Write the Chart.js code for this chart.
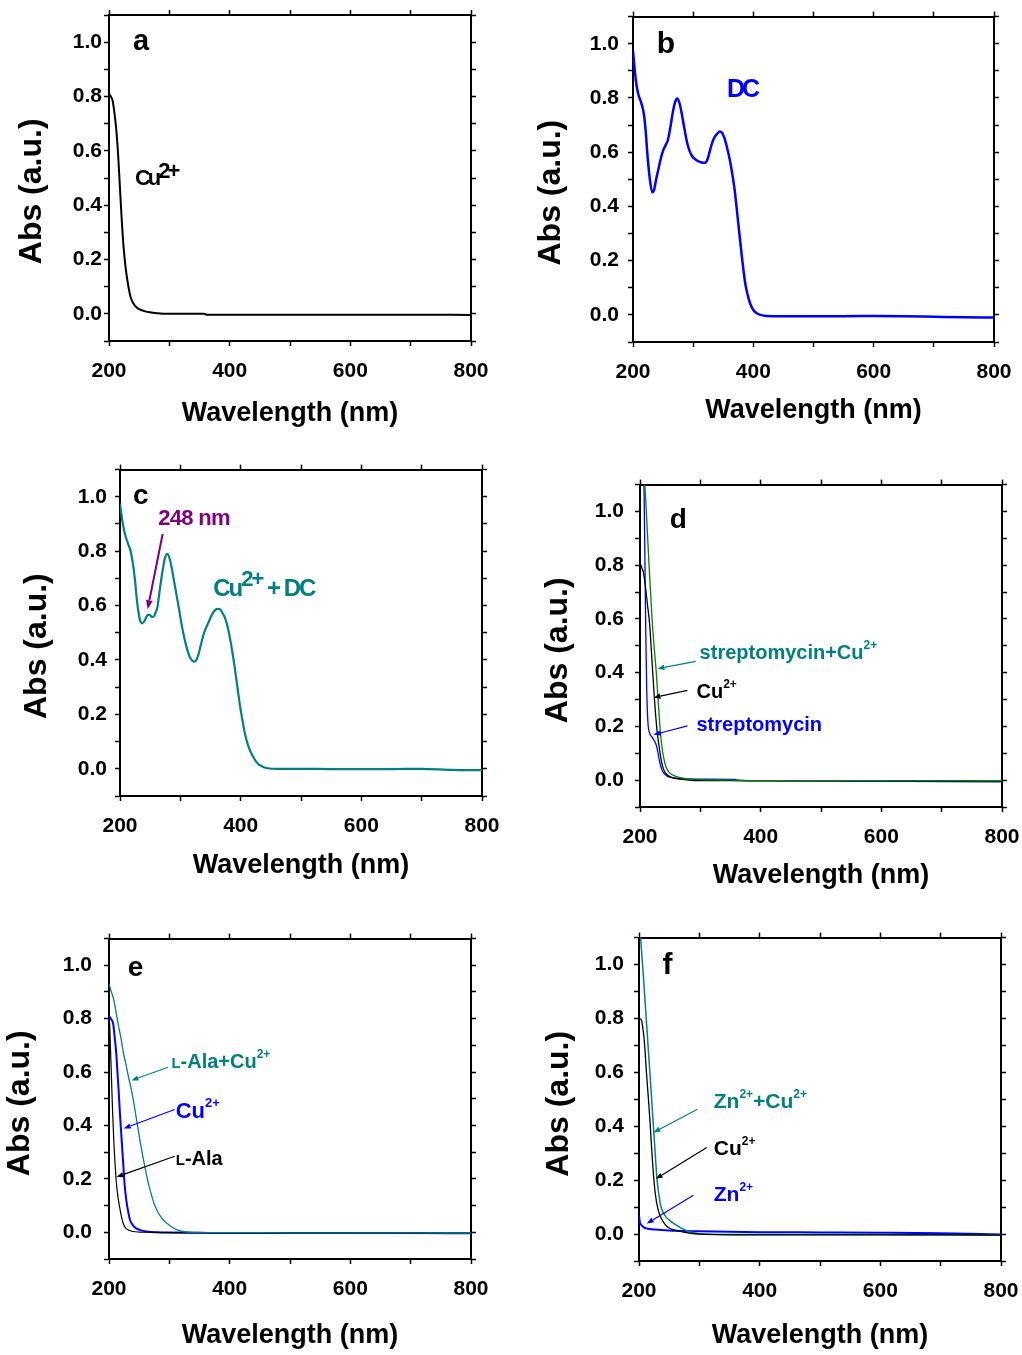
<!DOCTYPE html>
<html><head><meta charset="utf-8">
<script src="https://cdn.jsdelivr.net/npm/chart.js@4.4.0/dist/chart.umd.min.js"></script>
<style>
html,body{margin:0;padding:0;background:#fff;width:1022px;height:1355px;overflow:hidden;position:relative}
canvas{position:absolute}
</style></head><body>
<script>
// ---------------- data ----------------
const wavelengthTicks = [200, 400, 600, 800];
const absTicks = [0.0, 0.2, 0.4, 0.6, 0.8, 1.0];

// (a) Cu2+
const wlA = [200,203,206,209,212,215,218,221,224,227,230,233,236,240,245,250,260,270,280,300,330,358,362,400,500,600,700,800];
const absA_Cu = [0.81,0.80,0.785,0.74,0.68,0.59,0.47,0.35,0.25,0.18,0.13,0.09,0.06,0.04,0.025,0.017,0.009,0.005,0.002,0.0,0.0,0.0,-0.003,-0.003,-0.003,-0.003,-0.003,-0.004];

// (b) DC
const wlB = [200,203,206,209,214,218,221,224,228,232,235,238,242,246,250,254,258,262,266,270,274,278,282,286,290,294,298,303,308,314,320,324,328,332,336,340,344,348,352,356,361,365,369,372,375,378,381,384,387,391,395,400,405,412,422,450,500,550,600,650,700,750,800];
const absB_DC = [0.975,0.90,0.845,0.812,0.78,0.741,0.68,0.59,0.50,0.452,0.46,0.495,0.535,0.575,0.606,0.625,0.645,0.69,0.745,0.785,0.798,0.775,0.73,0.68,0.635,0.605,0.586,0.575,0.567,0.562,0.561,0.575,0.607,0.637,0.657,0.668,0.676,0.672,0.652,0.62,0.57,0.52,0.46,0.40,0.337,0.275,0.214,0.158,0.11,0.07,0.04,0.018,0.007,0.0,-0.004,-0.005,-0.005,-0.005,-0.004,-0.005,-0.007,-0.009,-0.01];

// (c) Cu2+ + DC
const wlC = [200,204,208,213,218,222,225,228,231,234,237,241,244,247,250,253,256,259,262,266,270,274,278,282,286,290,294,298,302,306,310,314,318,322,326,330,334,338,342,346,350,354,358,362,366,370,374,378,382,386,390,394,398,402,407,412,418,424,430,437,445,460,500,550,600,650,700,750,800];
const absC_CuDC = [0.975,0.91,0.865,0.83,0.796,0.745,0.69,0.62,0.57,0.54,0.535,0.545,0.56,0.567,0.565,0.558,0.56,0.575,0.594,0.66,0.72,0.77,0.79,0.775,0.735,0.685,0.635,0.585,0.532,0.487,0.45,0.42,0.402,0.394,0.398,0.42,0.455,0.49,0.515,0.535,0.555,0.573,0.584,0.588,0.586,0.572,0.555,0.525,0.484,0.432,0.375,0.31,0.245,0.19,0.13,0.088,0.055,0.032,0.016,0.007,0.002,0.0,0.0,-0.001,-0.001,-0.001,0.0,-0.004,-0.005];

// (d) streptomycin
const wlD_Cu = [200,203,206,209,212,216,220,224,228,232,236,240,245,250,260,270,280,300,350,400,500,600,700,800];
const absD_Cu = [0.81,0.79,0.77,0.72,0.66,0.58,0.44,0.30,0.19,0.12,0.065,0.035,0.02,0.012,0.006,0.003,0.0,-0.002,-0.002,-0.003,-0.003,-0.003,-0.003,-0.004];
const wlD_StrCu = [200,204,208,210.5,215,220,224,227,230,233,236,240,243,248,255,265,280,300,350,400,500,600,700,800];
const absD_StrCu = [1.4,1.22,1.1,1.0,0.8,0.6,0.48,0.40,0.30,0.20,0.13,0.075,0.05,0.03,0.018,0.01,0.005,0.002,0.0,-0.002,-0.002,-0.002,-0.002,-0.003];
const wlD_Str = [200,204,206.6,208,209.5,211,213,216,220,224,227,230,232,236,240,245,251,260,280,300,358,362,400,500,600,700,800];
const absD_Str = [1.5,1.2,1.1,0.85,0.56,0.35,0.22,0.175,0.16,0.145,0.13,0.10,0.074,0.04,0.024,0.015,0.01,0.007,0.005,0.004,0.003,0.0,-0.002,-0.003,-0.004,-0.005,-0.006];

// (e) L-Ala
const wlE_Ala = [200,201,202,204,206,208,210,212,215,218,221,224,228,234,240,250,270,300,400,500,600,700,800];
const absE_Ala = [0.80,0.78,0.72,0.585,0.45,0.34,0.26,0.19,0.13,0.09,0.055,0.03,0.015,0.007,0.003,0.001,0.0,-0.001,-0.002,-0.002,-0.002,-0.003,-0.004];
const wlE_Cu = [200,203,207,209,212,214,216,218,220,222,224,226,229,232,235,240,245,252,262,280,300,350,400,500,600,700,800];
const absE_Cu = [0.81,0.80,0.78,0.74,0.671,0.60,0.53,0.45,0.38,0.31,0.242,0.175,0.115,0.075,0.045,0.025,0.015,0.008,0.003,0.0,-0.001,-0.002,-0.003,-0.003,-0.003,-0.003,-0.004];
const wlE_AlaCu = [200,204,208,212,216,220,224,228,232,236,240,244,248,252,256,260,264,268,272,276,280,286,292,298,304,312,322,340,400,500,600,700,800];
const absE_AlaCu = [0.93,0.90,0.87,0.82,0.77,0.725,0.67,0.63,0.585,0.545,0.50,0.445,0.39,0.335,0.285,0.24,0.195,0.16,0.127,0.10,0.08,0.058,0.042,0.03,0.02,0.01,0.003,0.0,-0.001,-0.002,-0.002,-0.002,-0.003];

// (f) Zn2+
const wlF_Zn = [200,201,202,204,208,212,220,237,260,300,325,400,500,600,700,800];
const absF_Zn = [0.07,0.05,0.04,0.033,0.025,0.021,0.018,0.015,0.012,0.01,0.009,0.007,0.006,0.005,0.003,-0.002];
const wlF_Cu = [200,204,206,208,210,212,215,218,220.5,223,226,229,233,237,242,248,255,270,285,300,400,500,600,700,800];
const absF_Cu = [0.80,0.795,0.77,0.735,0.68,0.61,0.52,0.426,0.333,0.25,0.17,0.119,0.08,0.058,0.04,0.025,0.017,0.009,0.003,0.0,-0.003,-0.003,-0.003,-0.003,-0.004];
const wlF_ZnCu = [200,203,206.6,209,212,215,218,220.5,223,225.5,228,230,233,236,240,246,254,264,276,290,310,400,500,600,700,800];
const absF_ZnCu = [1.18,1.088,0.978,0.90,0.80,0.70,0.60,0.517,0.43,0.345,0.26,0.20,0.144,0.105,0.08,0.06,0.045,0.03,0.015,0.005,0.0,-0.002,-0.002,-0.002,-0.003,-0.003];

// ---------------- layout & style ----------------
const FAMILY = '"Liberation Sans", Arial, Helvetica, sans-serif';
const YW = 110, XH = 100, TH = 20, RW = 40;
const TEAL = '#008080', BLUE = '#0000ff', BLACK = '#000000', PURPLE = '#800080', GREEN = '#008000';

function xTickLabel(v) {
  const r = Math.round(v);
  return wavelengthTicks.includes(r) ? String(r) : '';
}
function yTickLabel(v) {
  const k = Math.round(v * 10);
  if (Math.abs(v * 10 - k) > 1e-6) return '';
  return absTicks.some(t => Math.round(t * 10) === k) ? (k / 10).toFixed(1) : '';
}

const panels = [
  { box:{L:109,T:15,R:471,B:341}, yPad:2, yTitlePad:13.5, xTitlePad:11.2, yTitle:'Abs (a.u.)   ',
    series:[{x:wlA, y:absA_Cu, color:BLACK, w:2}],
    notes:[
      {x:239.8, y:0.973, baseline:true, parts:[{t:'a', size:29}], color:BLACK},
      {x:243, y:0.505, spacing:-3, parts:[{t:'Cu', size:22},{t:'2+', size:22, rise:7}], color:BLACK}
    ] },
  { box:{L:633,T:15,R:994,B:342}, yPad:9, yTitlePad:8.8, xTitlePad:15.2, yTitle:'Abs (a.u.)   ',
    series:[{x:wlB, y:absB_DC, color:BLUE, w:2.5}],
    notes:[
      {x:239.4, y:0.967, baseline:true, parts:[{t:'b', size:30}], color:BLACK},
      {x:356.1, y:0.835, spacing:-3, parts:[{t:'DC', size:25}], color:BLUE}
    ] },
  { box:{L:120,T:469,R:482,B:796}, yPad:8, yTitlePad:7.5, xTitlePad:14.2, yTitle:'Abs (a.u.)   ',
    series:[{x:wlC, y:absC_CuDC, color:TEAL, w:2.2}],
    notes:[
      {x:221.5, y:0.974, baseline:true, parts:[{t:'c', size:28}], color:BLACK},
      {x:263.4, y:0.927, spacing:-0.7, parts:[{t:'248 nm', size:22}], color:PURPLE},
      {arrow:[270.7,0.863,245.8,0.587], color:PURPLE, lw:2, head:9},
      {x:354.5, y:0.668, spacing:-2, parts:[{t:'Cu', size:24},{t:'2+', size:22, rise:10},{t:' + DC', size:24}], color:TEAL}
    ] },
  { box:{L:640,T:481,R:1002,B:807}, yPad:11, yTitlePad:8.5, xTitlePad:15.2, yTitle:'Abs (a.u.) ',
    series:[{x:wlD_StrCu, y:absD_StrCu, color:GREEN, w:1.3},{x:wlD_Cu, y:absD_Cu, color:BLACK, w:1.3},{x:wlD_Str, y:absD_Str, color:BLUE, w:1.3}],
    notes:[
      {x:249.3, y:0.939, baseline:true, parts:[{t:'d', size:28}], color:BLACK},
      {x:298.8, y:0.478, parts:[{t:'streptomycin+Cu', size:20},{t:'2+', size:12, rise:10}], color:TEAL},
      {arrow:[292.4,0.442,228.9,0.415], color:TEAL},
      {x:293.6, y:0.331, parts:[{t:'Cu', size:20},{t:'2+', size:12, rise:10}], color:BLACK},
      {arrow:[278.6,0.334,222.2,0.307], color:BLACK},
      {x:293.6, y:0.21, parts:[{t:'streptomycin', size:20}], color:BLUE},
      {arrow:[278.6,0.202,222.2,0.169], color:BLUE}
    ] },
  { box:{L:109,T:934,R:471,B:1259}, yPad:12, yTitlePad:1.8, xTitlePad:7.2, yTitle:'Abs (a.u.) ',
    series:[{x:wlE_AlaCu, y:absE_AlaCu, color:TEAL, w:1.3},{x:wlE_Ala, y:absE_Ala, color:BLACK, w:1.2},{x:wlE_Cu, y:absE_Cu, color:BLUE, w:2}],
    notes:[
      {x:231, y:0.959, baseline:true, parts:[{t:'e', size:28}], color:BLACK},
      {x:303.4, y:0.642, base:20, parts:[{t:'L', size:15},{t:'-Ala+Cu', size:20},{t:'2+', size:12, rise:10}], color:TEAL},
      {arrow:[297.8,0.618,237.1,0.569], color:TEAL},
      {x:310.6, y:0.457, parts:[{t:'Cu', size:22},{t:'2+', size:13, rise:11}], color:BLUE},
      {arrow:[308.9,0.46,224.4,0.389], color:BLUE},
      {x:310.6, y:0.278, base:20, parts:[{t:'L', size:15},{t:'-Ala', size:20}], color:BLACK},
      {arrow:[308.9,0.285,212.3,0.207], color:BLACK}
    ] },
  { box:{L:639,T:935,R:1001,B:1261}, yPad:10, yTitlePad:11.1, xTitlePad:9.2, yTitle:'Abs (a.u.) ',
    series:[{x:wlF_Cu, y:absF_Cu, color:BLACK, w:1.3},{x:wlF_ZnCu, y:absF_ZnCu, color:TEAL, w:1.5},{x:wlF_Zn, y:absF_Zn, color:BLUE, w:2}],
    notes:[
      {x:238.8, y:0.965, baseline:true, parts:[{t:'f', size:30}], color:BLACK},
      {x:323.9, y:0.497, parts:[{t:'Zn', size:21},{t:'2+', size:12, rise:10},{t:'+Cu', size:21},{t:'2+', size:12, rise:10}], color:TEAL},
      {arrow:[296.9,0.463,223.9,0.377], color:TEAL},
      {x:323.9, y:0.321, parts:[{t:'Cu', size:21},{t:'2+', size:12, rise:10}], color:BLACK},
      {arrow:[312.3,0.321,227.7,0.205], color:BLACK},
      {x:323.9, y:0.151, parts:[{t:'Zn', size:21},{t:'2+', size:12, rise:10}], color:BLUE},
      {arrow:[290.2,0.144,212.8,0.039], color:BLUE}
    ] }
];

function drawArrow(ctx, x1, y1, x2, y2, color, lw, head) {
  const ang = Math.atan2(y2 - y1, x2 - x1);
  const hl = head || 7, hw = hl * 0.38;
  const bx = x2 - hl * Math.cos(ang), by = y2 - hl * Math.sin(ang);
  ctx.save();
  ctx.strokeStyle = color; ctx.fillStyle = color; ctx.lineWidth = lw || 1.2;
  ctx.beginPath(); ctx.moveTo(x1, y1); ctx.lineTo(bx, by); ctx.stroke();
  ctx.beginPath(); ctx.moveTo(x2, y2);
  ctx.lineTo(bx + hw * Math.sin(ang), by - hw * Math.cos(ang));
  ctx.lineTo(bx - hw * Math.sin(ang), by + hw * Math.cos(ang));
  ctx.closePath(); ctx.fill();
  ctx.restore();
}

function makeNotesPlugin(notes) {
  return {
    id: 'notes',
    afterDraw(chart) {
      const ctx = chart.ctx, xs = chart.scales.x, ys = chart.scales.y;
      for (const n of notes) {
        if (n.arrow) {
          const [a, b, c, d] = n.arrow;
          drawArrow(ctx, xs.getPixelForValue(a), ys.getPixelForValue(b), xs.getPixelForValue(c), ys.getPixelForValue(d), n.color, n.lw, n.head);
          continue;
        }
        const px = xs.getPixelForValue(n.x), py = ys.getPixelForValue(n.y);
        const baseSize = n.base || n.parts[0].size;
        const baseline = n.baseline ? py : py + baseSize * 0.358;
        ctx.save();
        ctx.fillStyle = n.color; ctx.textAlign = 'left'; ctx.textBaseline = 'alphabetic';
        if ('letterSpacing' in ctx) ctx.letterSpacing = (n.spacing || 0) + 'px';
        let cx = px;
        for (const p of n.parts) {
          ctx.font = (p.weight || 'bold') + ' ' + p.size + 'px ' + FAMILY;
          ctx.fillText(p.t, cx, baseline - (p.rise || 0));
          cx += ctx.measureText(p.t).width;
        }
        ctx.restore();
      }
    }
  };
}

const tickFont = {family: FAMILY, size: 21, weight: 'bold'};
const gridOpts = {drawOnChartArea: false, drawTicks: true, tickLength: 5, tickWidth: 1.5, tickColor: '#000', color: '#000'};
const borderOpts = {display: true, color: '#000', width: 2};

panels.forEach((p, i) => {
  const {L, T, R, B} = p.box;
  const cv = document.createElement('canvas');
  const w = YW + (R - L) + RW, h = TH + (B - T) + XH;
  cv.width = w; cv.height = h;
  cv.style.left = (L - YW) + 'px'; cv.style.top = (T - TH) + 'px';
  cv.style.width = w + 'px'; cv.style.height = h + 'px';
  document.body.appendChild(cv);

  new Chart(cv.getContext('2d'), {
    type: 'line',
    data: {
      datasets: p.series.map(s => ({
        data: s.x.map((x, k) => ({x: x, y: s.y[k]})),
        borderColor: s.color, borderWidth: s.w, pointRadius: 0, fill: false,
        cubicInterpolationMode: 'monotone', xAxisID: 'x', yAxisID: 'y'
      }))
    },
    options: {
      responsive: false, animation: false, devicePixelRatio: 1, parsing: false,
      layout: {padding: 0, autoPadding: false},
      plugins: {legend: {display: false}, tooltip: {enabled: false}},
      scales: {
        x: {type: 'linear', position: 'bottom', min: 200, max: 800,
            ticks: {stepSize: 100, autoSkip: false, maxRotation: 0, padding: 13, font: tickFont, color: '#000', callback: xTickLabel},
            grid: gridOpts, border: borderOpts,
            title: {display: true, text: 'Wavelength (nm)', color: '#000', font: {family: FAMILY, size: 27, weight: 'bold'}, padding: {top: 0, bottom: p.xTitlePad}},
            afterFit(s) { s.height = XH; }},
        x2: {type: 'linear', position: 'top', min: 200, max: 800,
            ticks: {stepSize: 100, autoSkip: false, maxRotation: 0, padding: 0, font: {size: 8}, callback: () => ''},
            grid: gridOpts, border: borderOpts,
            afterFit(s) { s.height = TH; }},
        y: {type: 'linear', position: 'left', min: -0.1, max: 1.1,
            ticks: {stepSize: 0.1, autoSkip: false, padding: p.yPad, font: tickFont, color: '#000', callback: yTickLabel},
            grid: gridOpts, border: borderOpts,
            title: {display: true, text: p.yTitle, color: '#000', font: {family: FAMILY, size: 32, weight: 'bold'}, padding: {top: p.yTitlePad, bottom: 0}},
            afterFit(s) { s.width = YW; }},
        y2: {type: 'linear', position: 'right', min: -0.1, max: 1.1,
            ticks: {stepSize: 0.1, autoSkip: false, padding: 0, font: {size: 8}, callback: () => ''},
            grid: gridOpts, border: borderOpts,
            afterFit(s) { s.width = RW; }}
      }
    },
    plugins: [makeNotesPlugin(p.notes)]
  });
});
</script>
</body></html>
